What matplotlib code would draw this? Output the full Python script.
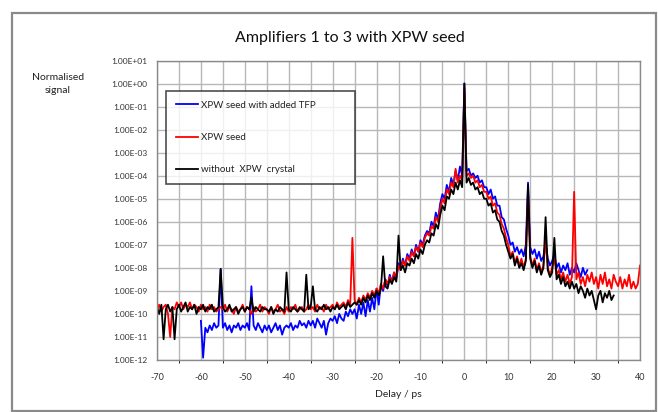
import numpy as np
import matplotlib
matplotlib.use("Agg")
import matplotlib.pyplot as plt
from matplotlib.ticker import FixedLocator, FuncFormatter, MultipleLocator
from matplotlib.patches import Rectangle

plt.rcParams["font.family"] = ["Lato", "DejaVu Sans"]
plt.rcParams["axes.unicode_minus"] = False

# 数据：log10(归一化信号)，每 0.5 ps 一个点
delay_black_start, delay_black_end = -70, 34
delay_red_start, delay_red_end = -70, 40
delay_blue_start, delay_blue_end = -60, 28

black_log = [
    -9.7, -10.0, -9.6, -11.1, -9.8, -9.6, -9.9, -9.7, -11.1, -9.8,   # -70
    -9.6, -9.9, -9.7, -9.5, -9.9, -9.7, -9.8, -9.6, -10.0, -9.7,     # -65
    -9.8, -9.6, -9.9, -9.7, -9.8, -9.6, -9.9, -9.8, -9.7, -8.05,     # -60
    -9.7, -9.9, -9.8, -9.6, -9.9, -9.8, -9.7, -10.0, -9.8, -9.7,     # -55
    -9.9, -9.7, -9.8, -9.3, -9.9, -9.7, -9.8, -9.9, -9.7, -9.8,      # -50
    -9.8, -9.9, -9.7, -10.0, -9.8, -9.9, -9.7, -9.8, -9.9, -8.2,     # -45
    -9.8, -9.9, -9.7, -9.8, -9.9, -9.7, -9.8, -9.9, -8.3, -9.8,      # -40
    -9.7, -8.8, -9.8, -9.9, -9.7, -9.8, -9.6, -9.8, -9.7, -9.9,      # -35
    -9.7, -9.8, -9.6, -9.8, -9.7, -9.6, -9.8, -9.5, -9.7, -9.6,      # -30
    -9.5, -9.6, -9.4, -9.6, -9.3, -9.5, -9.2, -9.4, -9.1, -9.3,      # -25
    -9.0, -9.2, -8.9, -7.5, -8.8, -8.9, -8.5, -8.7, -8.4, -8.6,      # -20
    -6.6, -8.1, -7.9, -8.2, -7.8, -7.9, -7.6, -7.8, -7.4, -7.6,      # -15
    -7.2, -7.4, -7.0, -6.8, -6.9, -6.5, -6.6, -6.1, -6.3, -5.7,      # -10
    -5.3, -5.5, -4.9, -5.0, -4.6, -4.8, -4.3, -4.6, -4.2, -4.5,      # -5
    0.0, -4.3, -4.1, -4.4, -4.3, -4.6, -4.5, -4.8, -4.7, -5.0,       # 0
    -5.0, -5.3, -5.2, -5.6, -5.5, -5.9, -6.0, -6.4, -6.6, -7.0,      # 5
    -7.3, -7.6, -7.4, -7.9, -7.6, -8.0, -7.8, -8.1, -7.7, -4.4,      # 10
    -7.6, -8.0, -7.7, -8.2, -7.9, -8.3, -8.0, -5.8, -8.1, -8.4,      # 15
    -8.2, -6.7, -8.5, -8.3, -8.7, -8.4, -8.8, -8.6, -8.9, -8.6,      # 20
    -8.9, -8.7, -9.1, -8.8, -9.0, -9.3, -8.9, -9.2, -9.0, -9.4,      # 25
    -9.8, -9.2, -9.0, -9.5, -9.1, -9.3, -9.0, -9.4, -9.2,            # 30
]

red_log = [
    -9.8, -9.6, -9.9, -9.7, -9.6, -10.0, -11.0, -9.7, -9.8, -9.5,    # -70
    -9.7, -9.5, -9.8, -9.6, -9.7, -9.5, -9.8, -9.6, -9.7, -9.9,      # -65
    -9.6, -9.8, -9.7, -9.9, -9.6, -9.8, -9.7, -9.9, -9.8, -9.7,      # -60
    -9.8, -9.6, -9.9, -9.7, -9.8, -10.0, -9.7, -9.9, -9.8, -9.6,     # -55
    -9.9, -9.7, -9.8, -10.0, -9.7, -9.9, -9.8, -9.6, -9.9, -9.7,     # -50
    -9.8, -10.0, -9.7, -9.9, -9.8, -9.6, -9.9, -9.8, -10.0, -9.7,    # -45
    -9.9, -9.7, -9.8, -9.6, -9.9, -9.8, -9.7, -9.9, -9.8, -9.6,      # -40
    -9.8, -9.7, -9.9, -9.6, -9.8, -9.7, -9.9, -9.6, -9.8, -9.7,      # -35
    -9.6, -9.8, -9.5, -9.7, -9.6, -9.5, -9.7, -9.4, -9.6, -6.7,      # -30
    -9.4, -9.6, -9.3, -9.5, -9.2, -9.4, -9.1, -9.3, -9.0, -9.2,      # -25
    -8.9, -9.1, -8.7, -8.9, -8.5, -8.7, -8.4, -8.6, -8.2, -8.4,      # -20
    -7.9, -8.1, -7.7, -7.9, -7.5, -7.7, -7.3, -7.5, -7.1, -7.3,      # -15
    -6.9, -7.1, -6.7, -6.5, -6.6, -6.2, -6.3, -5.8, -6.0, -5.4,      # -10
    -5.0, -5.2, -4.6, -4.8, -4.3, -4.5, -3.7, -4.3, -4.0, -4.2,      # -5
    -0.2, -4.0, -3.9, -4.1, -4.0, -4.3, -4.2, -4.5, -4.4, -4.7,      # 0
    -4.7, -5.0, -4.9, -5.3, -5.2, -5.6, -5.7, -6.1, -6.3, -6.7,      # 5
    -7.0, -7.5, -7.3, -7.8, -7.5, -7.9, -7.6, -8.0, -7.6, -4.6,      # 10
    -7.5, -7.9, -7.6, -8.1, -7.8, -8.2, -7.9, -6.8, -8.0, -8.3,      # 15
    -8.0, -7.6, -8.3, -8.1, -8.5, -8.2, -8.6, -8.3, -8.7, -8.4,      # 20
    -4.7, -8.5, -8.2, -8.7, -8.4, -8.8, -8.3, -8.6, -8.2, -8.7,      # 25
    -8.4, -8.9, -8.3, -8.7, -8.2, -8.8, -8.5, -8.9, -8.3, -8.6,      # 30
    -8.8, -8.4, -8.9, -8.5, -8.8, -8.3, -8.9, -8.6, -8.9, -8.7,      # 35
    -7.9,                                                            # 40
]

blue_log = [
    -10.3, -11.9, -10.6, -10.8, -10.5, -10.7, -10.4, -10.6, -10.5, -8.05,  # -60
    -10.6, -10.4, -10.7, -10.5, -10.8, -10.5, -10.6, -10.4, -10.7, -10.5,  # -55
    -10.6, -10.4, -10.7, -8.8, -10.5, -10.7, -10.4, -10.6, -10.8, -10.5,   # -50
    -10.7, -10.5, -10.8, -10.6, -10.4, -10.7, -10.5, -10.9, -10.6, -10.5,  # -45
    -10.6, -10.4, -10.7, -10.5, -10.6, -10.3, -10.5, -10.4, -10.6, -10.3,  # -40
    -10.5, -10.3, -10.6, -10.2, -10.4, -10.6, -10.3, -10.9, -10.4, -10.2,  # -35
    -10.3, -10.1, -10.4, -10.0, -10.2, -10.3, -9.9, -10.1, -9.8, -10.0,    # -30
    -9.8, -10.2, -9.6, -10.0, -9.5, -10.1, -9.4, -9.9, -9.3, -9.8,         # -25
    -8.9, -9.6, -8.7, -9.0, -8.5, -8.8, -8.3, -8.6, -8.2, -8.5,            # -20
    -7.8, -8.0, -7.6, -7.9, -7.4, -7.6, -7.2, -7.5, -7.0, -7.3,            # -15
    -6.8, -7.0, -6.6, -6.4, -6.5, -6.0, -6.2, -5.6, -5.9, -5.2,            # -10
    -4.8, -5.0, -4.4, -4.7, -4.1, -4.4, -3.8, -4.2, -3.6, -4.0,            # -5
    0.0, -3.8, -3.7, -4.0, -3.9, -4.1, -4.0, -4.3, -4.2, -4.5,             # 0
    -4.5, -4.8, -4.6, -5.0, -4.9, -5.3, -5.3, -5.8, -5.9, -6.3,            # 5
    -6.6, -7.0, -6.9, -7.3, -7.1, -7.4, -7.2, -7.5, -7.0, -4.3,            # 10
    -7.1, -7.4, -7.2, -7.6, -7.3, -7.7, -7.5, -6.9, -7.6, -7.9,            # 15
    -7.7, -7.4, -8.0, -7.8, -8.2, -7.9, -8.1, -7.8, -8.3, -8.0,            # 20
    -8.2, -7.8, -8.1, -8.4, -8.0, -8.3, -8.1,                              # 25
]

legend_labels = ["XPW seed with added TFP", "XPW seed", "without  XPW  crystal"]

x_black = np.arange(delay_black_start, delay_black_end + 0.25, 0.5)
x_red = np.arange(delay_red_start, delay_red_end + 0.25, 0.5)
x_blue = np.arange(delay_blue_start, delay_blue_end + 0.25, 0.5)

fig = plt.figure(figsize=(6.58, 4.12), dpi=100)
ax = fig.add_axes([157 / 658, 1 - 360 / 412, 483 / 658, 299.5 / 412])

# 外框
fig.patches.append(Rectangle((12 / 658, 1 / 412), 644 / 658, 398 / 412,
                             transform=fig.transFigure, fill=False,
                             edgecolor="#8a8a8a", linewidth=1.6))

ax.plot(x_blue, 10.0 ** np.array(blue_log), color="#0000ff", lw=1.3, label=legend_labels[0])
ax.plot(x_red, 10.0 ** np.array(red_log), color="#ff0000", lw=1.3, label=legend_labels[1])
ax.plot(x_black, 10.0 ** np.array(black_log), color="#000000", lw=1.3, label=legend_labels[2])

ax.set_yscale("log")
ax.set_xlim(-70, 40)
ax.set_ylim(1e-12, 1e1)
ax.xaxis.set_major_locator(MultipleLocator(10))
ax.xaxis.set_minor_locator(MultipleLocator(5))
ax.yaxis.set_major_locator(FixedLocator([10.0 ** k for k in range(-12, 2)]))
ax.yaxis.set_minor_locator(FixedLocator([]))
ax.yaxis.set_major_formatter(FuncFormatter(lambda v, p: f"{v:.2E}"))
ax.xaxis.set_major_formatter(FuncFormatter(lambda v, p: f"{v:.0f}"))

ax.grid(True, which="both", axis="x", color="#b8b8b8", lw=1.0)
ax.grid(True, which="major", axis="y", color="#b8b8b8", lw=1.0)
ax.set_axisbelow(True)
for s in ax.spines.values():
    s.set_color("#8a8a8a")
    s.set_linewidth(1.0)
ax.tick_params(length=0, labelsize=6, colors="#333333", pad=7)
ax.tick_params(axis="x", labelsize=6.5, pad=9)

ax.set_xlabel("Delay / ps", fontsize=7.5, color="#222222", labelpad=6)
fig.text(58 / 658, 1 - 84 / 412, "Normalised\nsignal", ha="center", va="center",
         fontsize=7.5, color="#222222", linespacing=1.5)
fig.text(350 / 658, 1 - 38 / 412, "Amplifiers 1 to 3 with XPW seed", ha="center",
         va="center", fontsize=11.5, color="#111111")

leg = ax.legend(loc="upper left", bbox_to_anchor=(0.0186, 0.584, 0.392, 0.314),
                mode="expand", fontsize=7, frameon=True, fancybox=False,
                handlelength=2.3, labelspacing=2.4, borderpad=1.0, handletextpad=0.3,
                borderaxespad=0)
leg.get_frame().set_edgecolor("#222222")
leg.get_frame().set_linewidth(1.2)
for t in leg.get_texts():
    t.set_color("#222222")

plt.savefig("out.png", dpi=100)
